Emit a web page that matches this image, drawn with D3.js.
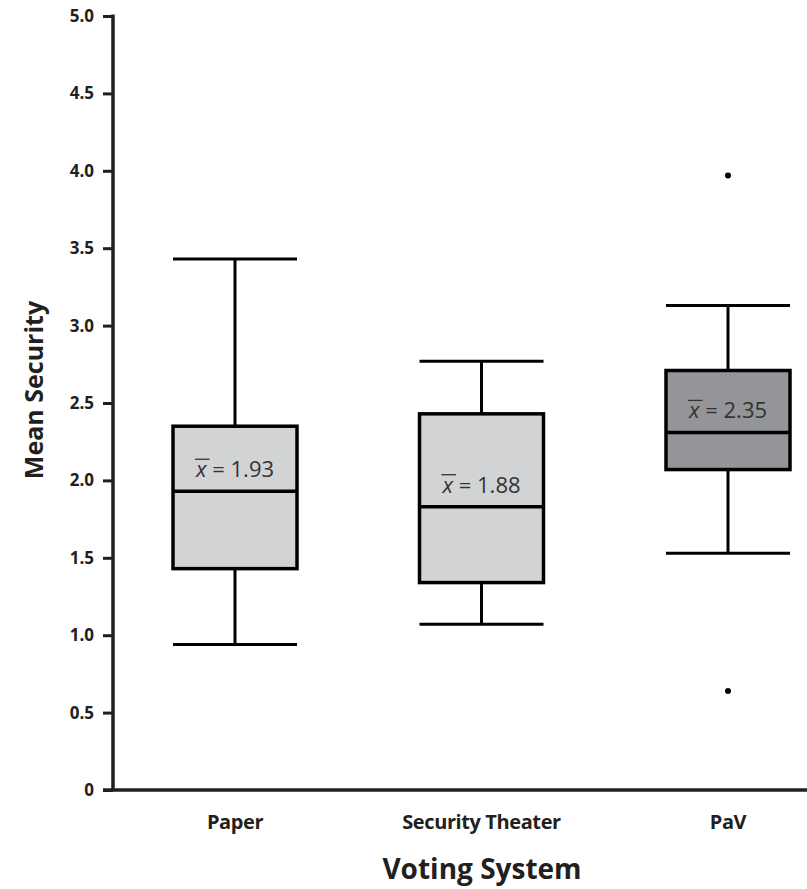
<!DOCTYPE html>
<html>
<head>
<meta charset="utf-8">
<script src="https://d3js.org/d3.v7.min.js"></script>
<style>
  body { margin: 0; background: #fff; font-family: "Open Sans", sans-serif; }
</style>
</head>
<body>
<div id="chart"></div>
<script>
// data
var categories = ["Paper", "Security Theater", "PaV"];
var whiskerHigh = [3.43, 2.77, 3.13];
var q3 = [2.35, 2.43, 2.71];
var median = [1.93, 1.83, 2.31];
var q1 = [1.43, 1.34, 2.07];
var whiskerLow = [0.94, 1.07, 1.53];
var means = [1.93, 1.88, 2.35];
var outlierCats = ["PaV", "PaV"];
var outlierValues = [3.97, 0.64];
var yTicks = [0, 0.5, 1.0, 1.5, 2.0, 2.5, 3.0, 3.5, 4.0, 4.5, 5.0];
var boxColors = ["#d1d3d4", "#d1d3d4", "#939598"];

var W = 807, H = 889;
var axisX = 113, axisY = 790, topY = 16;
var boxW = 124;
var ink = "#231f20";

var svg = d3.select("#chart").append("svg")
    .attr("width", W).attr("height", H);

var x = d3.scalePoint().domain(categories).range([235, 728]);
var y = d3.scaleLinear().domain([0, 5]).range([axisY, topY]);

var boxes = categories.map(function(c, i) {
    return {cat: c, hi: whiskerHigh[i], q3: q3[i], med: median[i], q1: q1[i],
            lo: whiskerLow[i], mean: means[i], fill: boxColors[i]};
});

// y axis
var yAxis = svg.append("g")
    .attr("transform", "translate(" + axisX + ",0)")
    .call(d3.axisLeft(y).tickValues(yTicks).tickSize(10).tickPadding(9)
        .tickFormat(function(d) { return d === 0 ? "0" : d3.format(".1f")(d); }));
yAxis.select(".domain").remove();
yAxis.selectAll(".tick line").attr("stroke", ink).attr("stroke-width", 3);
yAxis.selectAll(".tick text")
    .attr("fill", ink)
    .style("font-family", "Open Sans")
    .style("font-weight", "bold")
    .style("font-size", "17px");

svg.append("line")
    .attr("x1", axisX).attr("x2", axisX)
    .attr("y1", y(5) - 1.5).attr("y2", axisY)
    .attr("stroke", ink).attr("stroke-width", 3.5);
svg.append("line")
    .attr("x1", axisX - 10).attr("x2", W)
    .attr("y1", axisY).attr("y2", axisY)
    .attr("stroke", ink).attr("stroke-width", 3.5);

// whiskers
var g = svg.append("g");
g.selectAll(".whisker")
    .data(boxes).enter().append("line")
    .attr("x1", function(d) { return x(d.cat); })
    .attr("x2", function(d) { return x(d.cat); })
    .attr("y1", function(d) { return y(d.hi); })
    .attr("y2", function(d) { return y(d.lo); })
    .attr("stroke", "#000").attr("stroke-width", 3);

["hi", "lo"].forEach(function(k) {
    g.selectAll(".cap-" + k)
        .data(boxes).enter().append("line")
        .attr("x1", function(d) { return x(d.cat) - boxW / 2; })
        .attr("x2", function(d) { return x(d.cat) + boxW / 2; })
        .attr("y1", function(d) { return y(d[k]); })
        .attr("y2", function(d) { return y(d[k]); })
        .attr("stroke", "#000").attr("stroke-width", 3);
});

// boxes
g.selectAll(".box")
    .data(boxes).enter().append("rect")
    .attr("x", function(d) { return x(d.cat) - boxW / 2; })
    .attr("y", function(d) { return y(d.q3); })
    .attr("width", boxW)
    .attr("height", function(d) { return y(d.q1) - y(d.q3); })
    .attr("fill", function(d) { return d.fill; })
    .attr("stroke", "#000").attr("stroke-width", 3.5);

g.selectAll(".median")
    .data(boxes).enter().append("line")
    .attr("x1", function(d) { return x(d.cat) - boxW / 2; })
    .attr("x2", function(d) { return x(d.cat) + boxW / 2; })
    .attr("y1", function(d) { return y(d.med); })
    .attr("y2", function(d) { return y(d.med); })
    .attr("stroke", "#000").attr("stroke-width", 3.5);

// outliers
g.selectAll(".outlier")
    .data(outlierValues).enter().append("circle")
    .attr("cx", function(d, i) { return x(outlierCats[i]); })
    .attr("cy", function(d) { return y(d); })
    .attr("r", 3)
    .attr("fill", "#000");

// mean labels: x-bar = value, just above the median line
boxes.forEach(function(d) {
    var lg = svg.append("g");
    var base = y(d.med) - 14;
    var xs = lg.append("text")
        .attr("y", base)
        .style("font-family", "Open Sans")
        .style("font-style", "italic")
        .style("font-size", "22px")
        .attr("fill", "#333")
        .text("x");
    var rest = lg.append("text")
        .attr("y", base)
        .style("font-family", "Open Sans")
        .style("font-size", "22px")
        .attr("fill", "#333")
        .text("\u00a0= " + d.mean.toFixed(2));
    var w1 = xs.node().getComputedTextLength();
    var w2 = rest.node().getComputedTextLength();
    var left = x(d.cat) - (w1 + w2) / 2;
    xs.attr("x", left);
    rest.attr("x", left + w1);
    lg.append("line")
        .attr("x1", left - 1).attr("x2", left + w1 + 3)
        .attr("y1", base - 18).attr("y2", base - 18)
        .attr("stroke", "#333").attr("stroke-width", 1.3);
});

// category labels
svg.selectAll(".cat")
    .data(categories).enter().append("text")
    .attr("x", function(d) { return x(d); })
    .attr("y", 829)
    .attr("text-anchor", "middle")
    .attr("fill", ink)
    .style("font-family", "Open Sans")
    .style("font-weight", "bold")
    .style("font-size", "20px")
    .style("letter-spacing", "-0.4px")
    .text(function(d) { return d; });

// axis titles
svg.append("text")
    .attr("x", 482).attr("y", 879)
    .attr("text-anchor", "middle")
    .attr("fill", ink)
    .style("font-family", "Open Sans")
    .style("font-weight", "bold")
    .style("font-size", "28px")
    .text("Voting System");

svg.append("text")
    .attr("transform", "translate(43,390) rotate(-90)")
    .attr("text-anchor", "middle")
    .attr("fill", ink)
    .style("font-family", "Open Sans")
    .style("font-weight", "bold")
    .style("font-size", "25px")
    .text("Mean Security");
</script>
</body>
</html>
